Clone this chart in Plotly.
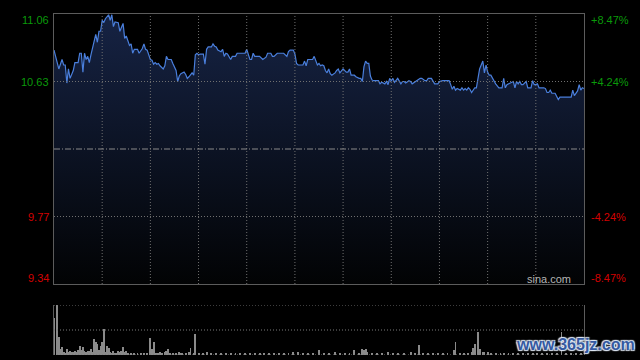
import plotly.graph_objects as go

# ---------------- data ----------------
price_t = [0,1,3,5,6,7,8,9,10,12,13,15,16,17,18,19,20,21,22,23,24,25,26,27,28,29,
           30,31,32,34,35,36,37,38,40,41,43,44,45,47,48,49,50,52,53,55,56,57,58,
           60,61,62,63,64,65,66,68,69,70,71,73,74,76,77,78,79,81,82,83,84,86,87,
           88,89,90,91,93,94,95,96,98,99,100,101,102,104,105,106,107,108,110,111,
           113,114,117,119,120,121,122,123,124,125,128,130,132,133,135,136,137,139,
           143,145,146,147,149,150,151,152,154,155,156,157,158,160,161,162,163,164,
           165,166,167,168,169,170,171,172,173,175,176,177,178,179,180,182,183,184,
           185,187,188,190,191,192,193,194,195,196,197,198,199,201,202,203,204,206,
           207,208,209,210,211,212,213,214,216,217,218,219,221,222,223,225,226,228,
           229,231,232,233,235,236,237,239,240,242,245,246,247,248,249,250,251,252,
           253,254,255,256,257,258,259,260,261,262,263,264,265,266,267,268,269,270,
           271,272,273,274,275,277,279,280,281,282,283,285,286,287,288,289,290,291,
           292,294,295,297,298,299,300,301,302,305,306,307,308,309,310,312,313,314,
           315,317,319,321,322,323,324,326,327,328,329,330]
price_v = [10.83,10.79,10.71,10.77,10.735,10.735,10.62,10.71,10.65,10.70,10.75,10.75,
           10.81,10.81,10.69,10.81,10.77,10.79,10.75,10.80,10.84,10.89,10.93,10.88,
           10.95,10.95,11.02,11.005,11.03,11.055,11.02,11.055,10.98,11.01,11.005,
           10.95,11.00,10.905,10.92,10.86,10.87,10.81,10.835,10.835,10.81,10.84,
           10.87,10.835,10.83,10.77,10.765,10.74,10.75,10.74,10.745,10.73,10.71,
           10.73,10.79,10.77,10.77,10.745,10.70,10.63,10.665,10.68,10.69,10.675,
           10.65,10.66,10.685,10.67,10.80,10.81,10.80,10.805,10.805,10.74,10.835,
           10.85,10.85,10.87,10.855,10.85,10.83,10.82,10.835,10.79,10.81,10.805,
           10.77,10.79,10.79,10.81,10.81,10.81,10.835,10.80,10.77,10.77,10.81,10.79,
           10.79,10.77,10.785,10.81,10.81,10.79,10.79,10.81,10.81,10.79,10.82,10.83,
           10.83,10.805,10.745,10.735,10.735,10.735,10.76,10.73,10.77,10.77,10.77,
           10.79,10.76,10.735,10.745,10.73,10.735,10.73,10.70,10.685,10.71,10.68,
           10.67,10.685,10.70,10.71,10.685,10.70,10.71,10.69,10.69,10.71,10.67,10.67,
           10.66,10.65,10.65,10.63,10.725,10.76,10.745,10.745,10.665,10.64,10.635,
           10.635,10.635,10.615,10.625,10.615,10.63,10.61,10.65,10.635,10.65,10.625,
           10.64,10.65,10.615,10.63,10.63,10.62,10.635,10.63,10.615,10.63,10.635,
           10.65,10.65,10.635,10.635,10.65,10.65,10.635,10.615,10.615,10.63,10.635,
           10.635,10.635,10.61,10.58,10.60,10.575,10.585,10.58,10.575,10.59,10.575,
           10.585,10.575,10.59,10.58,10.56,10.58,10.59,10.59,10.665,10.71,10.735,
           10.76,10.685,10.735,10.69,10.67,10.67,10.65,10.64,10.615,10.59,10.59,10.65,
           10.59,10.61,10.615,10.63,10.63,10.59,10.63,10.615,10.63,10.61,10.61,10.63,
           10.59,10.59,10.635,10.61,10.61,10.615,10.59,10.59,10.585,10.56,10.56,
           10.575,10.555,10.555,10.53,10.515,10.53,10.53,10.53,10.53,10.53,10.575,
           10.54,10.57,10.61,10.575,10.59,10.585]

vol_t = [0,2,3,4,5,6,7,8,9,10,11,12,13,14,15,16,17,18,19,20,21,22,23,24,25,26,27,28,29,
         30,31,32,33,34,35,36,37,38,39,40,41,42,43,44,45,46,48,50,52,54,56,58,60,61,62,
         63,64,65,66,67,69,70,71,72,74,76,78,79,80,82,84,85,87,88,90,93,95,98,101,104,
         107,110,113,116,119,122,125,128,131,134,137,140,143,146,149,152,155,158,161,
         165,168,171,175,178,181,184,187,190,192,193,194,195,198,201,204,208,211,214,
         218,222,225,227,230,233,236,239,242,245,249,250,253,255,258,260,261,262,264,
         265,267,268,270,272,275,278,280,283,286,289,292,295,298,301,304,307,310,313,
         316,319,322,325,328]
vol_h = [37.3,50,18.3,6,8.3,2.7,2,6,2.7,4,3.3,2.7,4,2.7,5,9.3,5,8.3,4,2.7,4,4,6,2.7,16,
         13.3,10.7,5,9.3,13.3,26,2.7,9.3,7.3,2.7,1.7,4,1.7,1.7,4,2.7,4,8.3,2.7,4,1.7,1,1,
         1.7,1,1.7,1.7,17.3,6,13.3,1.7,1.7,1,2.7,1,2.7,4,6,1,1,1,2.7,1.7,1,1,2.7,7.3,1,
         20.7,1,1.7,2.7,1,2,1,1.7,1,1.7,1,1.7,1,1.7,1,1.7,1,1.7,1,1,1.7,2.7,3.3,1,1.7,1,
         5,1,1.7,2.7,1,1.7,1,5,1.7,6,5,6,2.7,1,1.7,1,2.7,1,1.7,1,2.7,1,10,1,1.7,1,1.7,1,
         1.7,5,13.3,1,1.7,1,2.7,6.7,10.7,22.7,6,2.7,2.7,3.3,1.7,1,1.7,1.7,1,1.7,1.7,1,
         1.7,1,1.7,1,1.7,1,1.7,22.7,1.7,1,1.7,2]

prev_close = 10.20
time_grid = [30, 60, 90, 120, 150, 180, 210, 240, 270, 300]
price_grid = [10.63, 9.77]
vol_grid = [50, 25, 0]
y_ticks = [11.06, 10.63, 9.77, 9.34]
pct_labels = ["+8.47%", "+4.24%", "-4.24%", "-8.47%"]
price_labels = ["11.06", "10.63", "9.77", "9.34"]
label_colors = ["#0a9a0a", "#0a9a0a", "#d40000", "#d40000"]
label_shift = [-6, 0, 0, 6]

FONT = "Arial, Liberation Sans, sans-serif"
GRID = "#707070"
BORDER = "#5c5c5c"
DOT = "1px,2px"

fig = go.Figure()

fig.add_trace(go.Scatter(
    x=price_t, y=price_v, mode="lines",
    line=dict(color="#4a7fdc", width=1.2),
    fill="tozeroy",
    fillgradient=dict(type="vertical", start=9.34, stop=11.06,
                      colorscale=[[0, "#020304"], [1, "#162344"]]),
    hoverinfo="skip", showlegend=False, xaxis="x", yaxis="y"))

fig.add_trace(go.Bar(
    x=vol_t, y=vol_h, width=0.6, marker=dict(color="#8a8a8a", line=dict(width=0)),
    hoverinfo="skip", showlegend=False, xaxis="x2", yaxis="y2"))

main_dom = [0.2082, 1.0]
vol_dom = [0.0, 0.1466]

fig.update_layout(
    width=640, height=360,
    margin=dict(l=54, r=56, t=14, b=5),
    paper_bgcolor="#000000", plot_bgcolor="#000000",
    bargap=0,
    xaxis=dict(domain=[0, 1], range=[0, 330], showgrid=False,
               showline=True, linecolor=BORDER, linewidth=1, mirror=True,
               showticklabels=False, ticks="", zeroline=False, layer="above traces"),
    yaxis=dict(domain=main_dom, range=[9.34, 11.06], showgrid=False,
               showline=True, linecolor=BORDER, linewidth=1, mirror=True,
               showticklabels=False, ticks="", zeroline=False, layer="above traces"),
    xaxis2=dict(domain=[0, 1], range=[0, 330], anchor="y2",
                showgrid=False, showline=False, showticklabels=False,
                ticks="", zeroline=False),
    yaxis2=dict(domain=vol_dom, range=[0, 50], anchor="x2",
                showgrid=False, showline=True, linecolor=BORDER, linewidth=1,
                mirror=True, showticklabels=False, ticks="", zeroline=False),
)

shapes = []
for tv in time_grid:
    shapes.append(dict(type="line", xref="x", yref="y", x0=tv, x1=tv, y0=9.34, y1=11.06,
                       line=dict(color=GRID, width=1, dash=DOT), layer="above"))
for pv in price_grid:
    shapes.append(dict(type="line", xref="x", yref="y", x0=0, x1=330, y0=pv, y1=pv,
                       line=dict(color=GRID, width=1, dash=DOT), layer="above"))
shapes.append(dict(type="line", xref="x", yref="y", x0=0, x1=330, y0=prev_close, y1=prev_close,
                   line=dict(color="#8a8a8a", width=1, dash="6px,2px,1px,2px"), layer="above"))
for v in vol_grid:
    shapes.append(dict(type="line", xref="x2", yref="y2", x0=0, x1=330, y0=v, y1=v,
                       line=dict(color="#7a7a7a", width=1, dash=DOT), layer="above"))
fig.update_layout(shapes=shapes)

ann = []
for yv, pl, pc, col, sh in zip(y_ticks, price_labels, pct_labels, label_colors, label_shift):
    ann.append(dict(x=0, xref="paper", y=yv, yref="y", text=pl, showarrow=False,
                    xanchor="right", yanchor="middle", xshift=-3, yshift=sh,
                    font=dict(family=FONT, size=11, color=col)))
    ann.append(dict(x=1, xref="paper", y=yv, yref="y", text=pc, showarrow=False,
                    xanchor="left", yanchor="middle", xshift=5, yshift=sh,
                    font=dict(family=FONT, size=11, color=col)))
ann.append(dict(x=1, xref="paper", y=9.34, yref="y", text="sina.com", showarrow=False,
                xanchor="right", yanchor="middle", xshift=-11, yshift=5,
                font=dict(family=FONT, size=11, color="#b4b4b4")))
ann.append(dict(x=(575 - 54) / 530, xref="paper", y=(355 - 344) / 341, yref="paper",
                text="<b>www.365jz.com</b>", showarrow=False,
                xanchor="center", yanchor="middle",
                font=dict(family=FONT, size=16, color="#3559a0",
                          shadow="1px 1px 1px #dfe8f5, -1px -1px 1px #dfe8f5, 1px -1px 1px #dfe8f5, -1px 1px 1px #dfe8f5")))
fig.update_layout(annotations=ann)

fig.write_html("out.html", config=dict(displayModeBar=False, responsive=False))
